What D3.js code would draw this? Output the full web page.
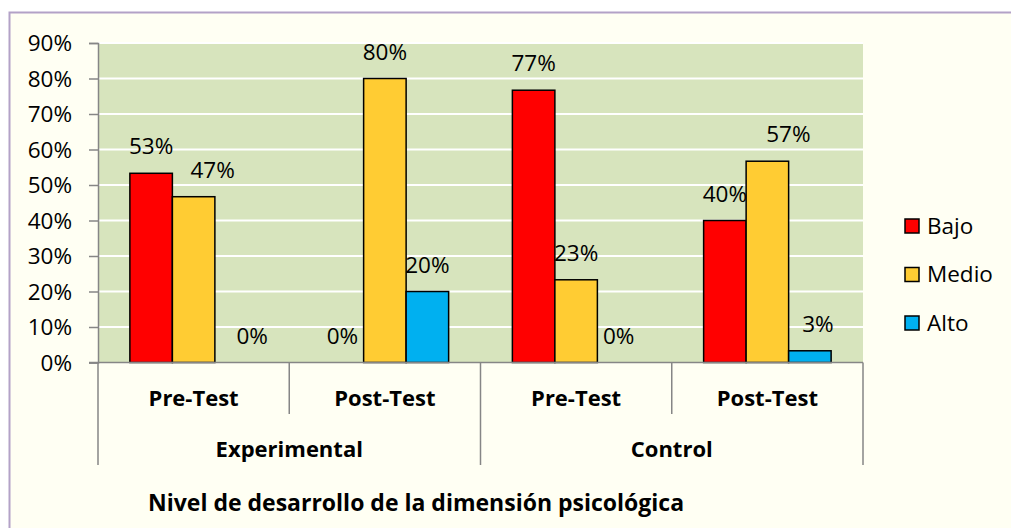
<html>
<head>
<meta charset="utf-8">
<title>Nivel de desarrollo de la dimension psicologica</title>
<script src="https://d3js.org/d3.v7.min.js"></script>
<style>
    body{
        margin: 0;
        background: #ffffff;
    }
    svg text{
        font-family: 'Open Sans', sans-serif;
        fill: #000000;
    }
</style>
</head>
<body>
<svg></svg>
<script>
    //data
    var groups = ["Experimental", "Control"];
    var tests = ["Pre-Test", "Post-Test"];
    var levels = ["Bajo", "Medio", "Alto"];
    var bajo  = [53.3, 0, 76.7, 40];
    var medio = [46.7, 80, 23.3, 56.7];
    var alto  = [0, 20, 0, 3.3];
    var yTicks = [0, 10, 20, 30, 40, 50, 60, 70, 80, 90];
    var colors = ["#ff0000", "#ffcc33", "#00b0f0"];
    var title = "Nivel de desarrollo de la dimensión psicológica";

    //label nudges (excel moved a few labels sideways)
    var labelNudge = [[0, 19, 16], [0, 0, 0], [0, 0, 0], [0, 21, 8]];

    var width = 1011, height = 528;
    var svg = d3.select("svg").attr("width", width).attr("height", height);

    //chart area
    svg.append("rect")
        .attr("x", 9.5).attr("y", 12.5)
        .attr("width", 1010).attr("height", 530)
        .style("fill", "#fffff3")
        .style("stroke", "#b3a2c7")
        .style("stroke-width", 2);

    var plotLeft = 98, plotRight = 863, plotTop = 43, plotBottom = 362.5;
    var fontSize = "22.5px";
    var boldSize = "22px";

    //categories: group + test
    var cats = [];
    groups.forEach(function(g){
        tests.forEach(function(t){ cats.push(g + "|" + t); });
    });

    var x0 = d3.scaleBand().domain(cats).range([plotLeft, plotRight]);
    var x1 = d3.scaleBand().domain(levels)
        .range([0, x0.bandwidth()])
        .paddingInner(0).paddingOuter(0.75);
    var y = d3.scaleLinear().domain([0, 90]).range([plotBottom, plotTop]);

    //plot background
    svg.append("rect")
        .attr("x", plotLeft).attr("y", plotTop)
        .attr("width", plotRight - plotLeft).attr("height", plotBottom - plotTop)
        .style("fill", "#d7e4bd");

    //gridlines
    svg.selectAll(".grid").data(yTicks.slice(1)).enter()
        .append("line")
        .attr("x1", plotLeft).attr("x2", plotRight)
        .attr("y1", function(d){ return y(d); })
        .attr("y2", function(d){ return y(d); })
        .style("stroke", "#ffffff")
        .style("stroke-width", 2);

    //y axis
    var yAxis = d3.axisLeft(y).tickValues(yTicks)
        .tickFormat(function(d){ return d + "%"; })
        .tickSize(9).tickPadding(17);
    var gy = svg.append("g").attr("transform", "translate(" + plotLeft + ",0)").call(yAxis);
    gy.select(".domain").style("stroke", "#868686").style("stroke-width", 1.5);
    gy.selectAll(".tick line").style("stroke", "#868686").style("stroke-width", 1.5);
    gy.selectAll(".tick text")
        .style("font-family", "'Open Sans', sans-serif")
        .style("font-size", fontSize)
        .attr("dy", "0.35em");

    //bars
    var series = [bajo, medio, alto];
    var barData = [];
    cats.forEach(function(c, i){
        levels.forEach(function(l, j){
            barData.push({cat: c, level: l, value: series[j][i], color: colors[j], nudge: labelNudge[i][j]});
        });
    });

    svg.selectAll(".bar").data(barData.filter(function(d){ return d.value > 0; })).enter()
        .append("rect")
        .attr("x", function(d){ return x0(d.cat) + x1(d.level); })
        .attr("y", function(d){ return y(d.value); })
        .attr("width", x1.bandwidth())
        .attr("height", function(d){ return y(0) - y(d.value); })
        .style("fill", function(d){ return d.color; })
        .style("stroke", "#000000")
        .style("stroke-width", 1.5);

    //data labels
    svg.selectAll(".label").data(barData).enter()
        .append("text")
        .attr("x", function(d){ return x0(d.cat) + x1(d.level) + x1.bandwidth() / 2 + d.nudge; })
        .attr("y", function(d){ return y(d.value) - 19; })
        .attr("text-anchor", "middle")
        .style("font-size", fontSize)
        .text(function(d){ return Math.round(d.value) + "%"; });

    //x axis line
    svg.append("line")
        .attr("x1", plotLeft - 9).attr("x2", plotRight)
        .attr("y1", plotBottom).attr("y2", plotBottom)
        .style("stroke", "#868686").style("stroke-width", 1.5);

    //category dividers
    var dividers = [];
    cats.forEach(function(c, i){
        dividers.push({x: x0(c), tall: i % tests.length == 0});
    });
    dividers.push({x: plotRight, tall: true});

    svg.selectAll(".divider").data(dividers).enter()
        .append("line")
        .attr("x1", function(d){ return d.x; })
        .attr("x2", function(d){ return d.x; })
        .attr("y1", plotBottom)
        .attr("y2", function(d){ return d.tall ? 465 : 414; })
        .style("stroke", "#868686").style("stroke-width", 1.5);

    //test labels
    svg.selectAll(".testlabel").data(cats).enter()
        .append("text")
        .attr("x", function(d){ return x0(d) + x0.bandwidth() / 2; })
        .attr("y", 406)
        .attr("text-anchor", "middle")
        .style("font-size", boldSize)
        .style("font-weight", "bold")
        .text(function(d){ return d.split("|")[1]; });

    //group labels
    svg.selectAll(".grouplabel").data(groups).enter()
        .append("text")
        .attr("x", function(d){
            return x0(d + "|" + tests[0]) + x0.bandwidth() * tests.length / 2;
        })
        .attr("y", 457)
        .attr("text-anchor", "middle")
        .style("font-size", boldSize)
        .style("font-weight", "bold")
        .text(function(d){ return d; });

    //title
    svg.append("text")
        .attr("x", 148).attr("y", 511)
        .style("font-size", "23px")
        .style("font-weight", "bold")
        .text(title);

    //legend
    var legend = svg.selectAll(".legend").data(levels).enter()
        .append("g")
        .attr("transform", function(d, i){ return "translate(905," + (226 + i * 48.5) + ")"; });
    legend.append("rect")
        .attr("x", 0).attr("y", -7)
        .attr("width", 14).attr("height", 14)
        .style("fill", function(d, i){ return colors[i]; })
        .style("stroke", "#000000")
        .style("stroke-width", 1.5);
    legend.append("text")
        .attr("x", 22).attr("y", 0)
        .attr("dy", "0.35em")
        .style("font-size", fontSize)
        .text(function(d){ return d; });
</script>
</body>
</html>
